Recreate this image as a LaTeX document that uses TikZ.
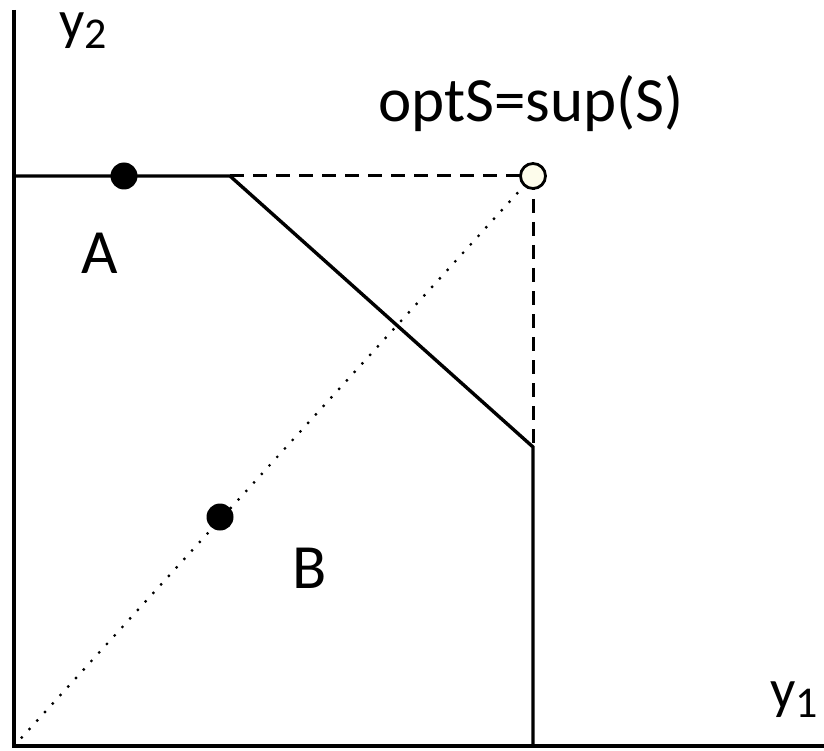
\documentclass[tikz,border=0pt]{standalone}
\usepackage{fontspec}
\setmainfont{Carlito}
\newcommand{\lowsub}[1]{\raisebox{-9pt}{\fontsize{44}{44}\selectfont #1}}
\begin{document}
\begin{tikzpicture}[x=1pt,y=-1pt,
  axis/.style={line width=4pt},
  edge/.style={line width=3.4pt},
  dashline/.style={line width=3pt, dash pattern=on 14pt off 9pt},
  dotline/.style={line width=3.2pt, dash pattern=on 0pt off 11.5pt, line cap=round},
  lbl/.style={font=\fontsize{63}{75}\selectfont, inner sep=0pt},
  axlbl/.style={font=\fontsize{56}{66}\selectfont, inner sep=0pt, anchor=base west},
  fulldot/.style={circle, fill=black, minimum size=27pt, inner sep=0pt},
  opendot/.style={circle, draw=black, line width=2.8pt, fill=black!10!yellow!8!white, minimum size=25pt, inner sep=0pt}]
\useasboundingbox (0,0) rectangle (824,751);
\coordinate (O) at (14,746);
\coordinate (ytop) at (14,10);
\coordinate (xend) at (824,746);
\coordinate (L) at (14,176);
\coordinate (K) at (230,176);
\coordinate (C) at (533,447);
\coordinate (Cb) at (533,746);
\draw[dotline] (O) -- (533,176);
\draw[dashline] (K) -- (533,176);
\draw[dashline] (533,176) -- (C);
\draw[axis] (ytop) -- (O) -- (xend);
\draw[edge] (L) -- (K) -- (C) -- (Cb);
\node[fulldot] (pA) at (124,176) {};
\node[fulldot] (pB) at (220,517) {};
\node[opendot] (opt) at (533,176) {};
\node[axlbl] (ly2) at (59,40) {y\lowsub{2}};
\node[lbl] (lopt) at (531,104) {optS=sup(S)};
\node[lbl] (lA) at (100,253) {A};
\node[lbl] (lB) at (310,568) {B};
\node[axlbl] (ly1) at (770,708) {y\lowsub{1}};
\end{tikzpicture}
\end{document}
